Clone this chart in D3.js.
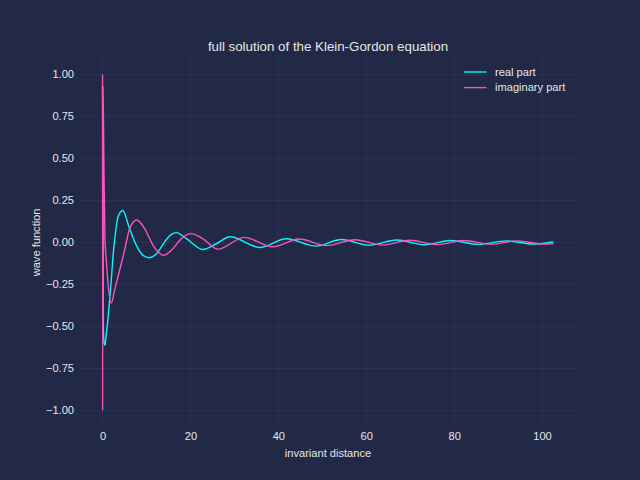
<!DOCTYPE html>
<html>
<head>
<meta charset="utf-8">
<script src="https://cdn.jsdelivr.net/npm/d3@7"></script>
<style>
  html, body { margin: 0; padding: 0; background: #212946; }
  svg { display: block; }
</style>
</head>
<body>
<div id="chart"></div>
<script>
// values: [invariant distance, wave function]
const realPart = [
    [0, 0.93], [0.08, 0.30], [0.16, -0.46], [0.32, -0.59], [0.53, -0.613],
    [0.8, -0.56], [1.2, -0.464], [1.98, -0.226], [2.5, -0.048], [2.75, 0.012],
    [3.5, 0.15], [4.6, 0.19], [6.15, 0.081], [7.7, -0.018], [9.2, -0.077],
    [10.7, -0.091], [12.6, -0.058], [14.1, 0.002], [15.6, 0.046], [16.8, 0.058],
    [19.1, 0.022], [22.8, -0.042], [25.9, -0.008], [29.0, 0.034], [35.8, -0.030],
    [41.8, 0.022], [48.5, -0.022], [54.4, 0.017], [60.6, -0.017], [66.9, 0.014],
    [73.3, -0.014], [79.2, 0.011], [85.5, -0.012], [91.9, 0.009], [98.4, -0.010],
    [102.6, 0.004]
];
const imaginaryPart = [
    [0, 1.0], [0.02, -1.0], [0.1, 0.93], [0.3, 0.5], [0.55, 0.02],
    [0.9, -0.12], [1.2, -0.23], [1.98, -0.361], [2.73, -0.286], [3.87, -0.167],
    [5.0, -0.048], [5.5, 0.012], [6.15, 0.081], [7.8, 0.133], [9.6, 0.081],
    [11.5, -0.018], [13.9, -0.077], [16.0, -0.038], [17.9, 0.022], [20.2, 0.052],
    [22.8, 0.022], [26.3, -0.040], [32.2, 0.030], [38.8, -0.026], [44.7, 0.020],
    [51.0, -0.019], [57.4, 0.016], [63.8, -0.015], [69.9, 0.013], [76.0, -0.013],
    [82.2, 0.011], [88.3, -0.011], [94.4, 0.009], [100.6, -0.010], [102.6, -0.008]
];
const xTicks = [0, 20, 40, 60, 80, 100];
const yTicks = [-1.0, -0.75, -0.5, -0.25, 0, 0.25, 0.5, 0.75, 1.0];
const seriesNames = ["real part", "imaginary part"];
const seriesColors = ["#08F7FE", "#FE53BB"];

const W = 640, H = 480;
const margin = {top: 57.6, right: 64, bottom: 52.8, left: 80};
const width = W - margin.left - margin.right;
const height = H - margin.top - margin.bottom;
const textColor = "#e6e6e6";
const font = "'Liberation Sans', Arial, sans-serif";

const svg = d3.select("#chart").append("svg")
    .attr("width", W).attr("height", H)
    .style("background", "#212946");

const g = svg.append("g").attr("transform", `translate(${margin.left},${margin.top})`);

// matplotlib-like 5% margins
const allX = realPart.concat(imaginaryPart).map(d => d[0]);
const allY = realPart.concat(imaginaryPart).map(d => d[1]);
const [x0, x1] = d3.extent(allX), [y0, y1] = d3.extent(allY);
const x = d3.scaleLinear().domain([x0 - 0.05 * (x1 - x0), x1 + 0.05 * (x1 - x0)]).range([0, width]);
const y = d3.scaleLinear().domain([y0 - 0.05 * (y1 - y0), y1 + 0.05 * (y1 - y0)]).range([height, 0]);

// grid
g.append("g").selectAll("line").data(xTicks).join("line")
    .attr("x1", d => x(d)).attr("x2", d => x(d)).attr("y1", 0).attr("y2", height)
    .attr("stroke", "#2A3459").attr("stroke-width", 1);
g.append("g").selectAll("line").data(yTicks).join("line")
    .attr("y1", d => y(d)).attr("y2", d => y(d)).attr("x1", 0).attr("x2", width)
    .attr("stroke", "#2A3459").attr("stroke-width", 1);

// axes (no spines, no tick marks)
const minus = s => s.replace("-", "\u2212");
const xAxis = g.append("g").attr("transform", `translate(0,${height})`)
    .call(d3.axisBottom(x).tickValues(xTicks).tickSize(0).tickPadding(5).tickFormat(d3.format("d")));
const yAxis = g.append("g")
    .call(d3.axisLeft(y).tickValues(yTicks).tickSize(0).tickPadding(6).tickFormat(d => minus(d3.format(".2f")(d))));
[xAxis, yAxis].forEach(a => {
    a.select(".domain").remove();
    a.selectAll("text").attr("fill", textColor).style("font-family", font).style("font-size", "11.1px");
});

// lines
const clip = svg.append("clipPath").attr("id", "plot-clip").append("rect")
    .attr("width", width).attr("height", height);
const line = d3.line().x(d => x(d[0])).y(d => y(d[1])).curve(d3.curveMonotoneX);
[realPart, imaginaryPart].forEach((data, i) => {
    g.append("path").datum(data)
        .attr("clip-path", "url(#plot-clip)")
        .attr("d", line)
        .attr("fill", "none")
        .attr("stroke", seriesColors[i])
        .attr("stroke-width", 1.4)
        .attr("stroke-linejoin", "round");
});

// title and labels
svg.append("text").attr("x", margin.left + width / 2).attr("y", 51)
    .attr("text-anchor", "middle").attr("fill", textColor)
    .style("font-family", font).style("font-size", "13.3px")
    .text("full solution of the Klein-Gordon equation");
svg.append("text").attr("x", margin.left + width / 2).attr("y", 456.5)
    .attr("text-anchor", "middle").attr("fill", textColor)
    .style("font-family", font).style("font-size", "11.1px")
    .text("invariant distance");
svg.append("text").attr("transform", `translate(39.5,${margin.top + height / 2}) rotate(-90)`)
    .attr("text-anchor", "middle").attr("fill", textColor)
    .style("font-family", font).style("font-size", "11.1px")
    .text("wave function");

// legend
const legend = svg.append("g").attr("transform", "translate(464,72)");
seriesNames.forEach((name, i) => {
    const row = legend.append("g").attr("transform", `translate(0,${i * 15.6})`);
    row.append("line").attr("x1", 0).attr("x2", 22.5).attr("y1", 0).attr("y2", 0)
        .attr("stroke", seriesColors[i]).attr("stroke-width", 1.4);
    row.append("text").attr("x", 31).attr("y", 0).attr("dy", "0.35em")
        .attr("fill", textColor).style("font-family", font).style("font-size", "11.1px")
        .text(name);
});
</script>
</body>
</html>
